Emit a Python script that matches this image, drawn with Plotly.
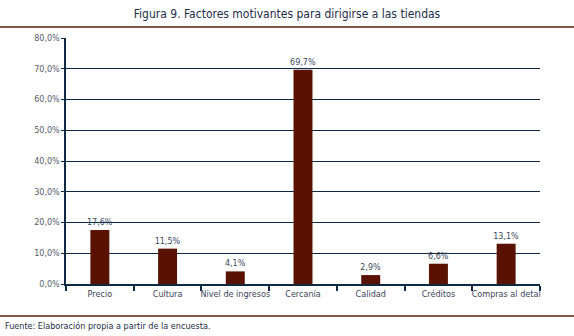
import plotly.graph_objects as go

categories = ["Precio", "Cultura", "Nivel de ingresos", "Cercanía", "Calidad", "Créditos", "Compras al detal"]
values = [17.6, 11.5, 4.1, 69.7, 2.9, 6.6, 13.1]
labels = ["17,6%", "11,5%", "4,1%", "69,7%", "2,9%", "6,6%", "13,1%"]
tick_vals = [0, 10, 20, 30, 40, 50, 60, 70, 80]
tick_text = ["0,0%", "10,0%", "20,0%", "30,0%", "40,0%", "50,0%", "60,0%", "70,0%", "80,0%"]

navy = "#0d2a45"
brown = "#5a1200"
W, H = 574, 336
L, R, T, B = 66, 34, 38, 52
pw, ph = W - L - R, H - T - B
cond = "DejaVu Sans Condensed, Liberation Sans Narrow, Liberation Sans, sans-serif"

def px(x):
    return (x - L) / pw

def py(y):
    return (H - B - y) / ph

fig = go.Figure(go.Bar(
    x=categories, y=values, text=labels, textposition="outside", constraintext="none",
    textfont=dict(family="DejaVu Sans", size=8, color="#3a4a60"),
    marker=dict(color=brown, line=dict(width=0)), width=0.28, cliponaxis=False,
))

fig.update_layout(
    width=W, height=H, margin=dict(l=L, r=R, t=T, b=B),
    plot_bgcolor="white", paper_bgcolor="white", showlegend=False,
    title=dict(text="Figura 9. Factores motivantes para dirigirse a las tiendas",
               x=0.5, xanchor="center", y=1 - 14 / H, yanchor="middle",
               font=dict(family=cond, size=12, color="#1c2e48")),
    xaxis=dict(showline=True, linecolor=navy, linewidth=1.5, ticks="outside",
               tickson="boundaries", ticklen=5, tickcolor=navy, tickwidth=1.5, tickangle=0,
               tickfont=dict(family=cond, size=9, color="#3a4458"),
               showgrid=False, range=[-0.5, 6.5]),
    yaxis=dict(range=[0, 80], tickvals=tick_vals, ticktext=tick_text,
               showline=True, linecolor=navy, linewidth=1.5, ticks="outside",
               ticklen=3, tickcolor=navy, showgrid=True, gridcolor=navy, gridwidth=1,
               tickfont=dict(family="DejaVu Sans", size=8, color="#555c6a"),
               zeroline=False),
    shapes=[
        dict(type="line", xref="paper", yref="paper", x0=px(0), x1=px(W), y0=py(27), y1=py(27),
             line=dict(color="#5a1a0a", width=1.5)),
        dict(type="line", xref="paper", yref="paper", x0=px(0), x1=px(W), y0=py(316), y1=py(316),
             line=dict(color="#5a1a0a", width=1.5)),
    ],
    annotations=[
        dict(text="Fuente: Elaboración propia a partir de la encuesta.", xref="paper", yref="paper",
             x=px(3), y=py(326), xanchor="left", yanchor="middle", showarrow=False,
             font=dict(family=cond, size=9, color="#1c2e48")),
    ],
)

fig.write_html("out.html")
